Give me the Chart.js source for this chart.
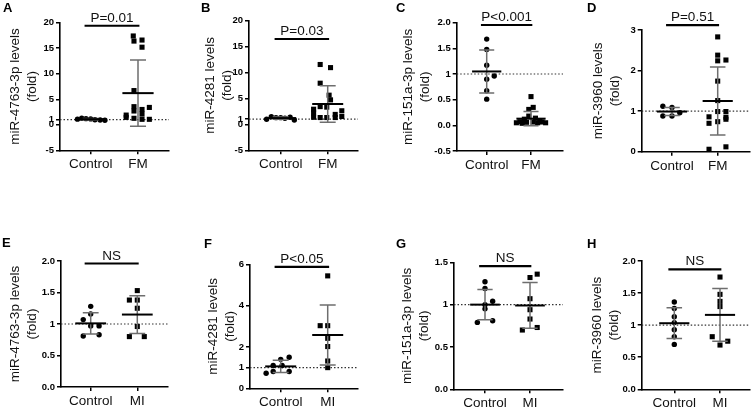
<!DOCTYPE html>
<html>
<head>
<meta charset="utf-8">
<script src="https://cdn.jsdelivr.net/npm/chart.js@4.4.0/dist/chart.umd.min.js"></script>
<style>
  body { margin: 0; background: #fff; }
  #wrap { position: relative; width: 754px; height: 410px; }
  #wrap canvas { position: absolute; left: 0; top: 0; }
</style>
</head>
<body>
<div id="wrap"></div>
<script>
// ===== Data =====
const letters = ['A', 'B', 'C', 'D', 'E', 'F', 'G', 'H'];
const yTitles = ['miR-4763-3p levels', 'miR-4281 levels', 'miR-151a-3p levels', 'miR-3960 levels',
                 'miR-4763-3p levels', 'miR-4281 levels', 'miR-151a-3p levels', 'miR-3960 levels'];
const groupNames = [['Control', 'FM'], ['Control', 'FM'], ['Control', 'FM'], ['Control', 'FM'],
                    ['Control', 'MI'], ['Control', 'MI'], ['Control', 'MI'], ['Control', 'MI']];
const pLabels = ['P=0.01', 'P=0.03', 'P<0.001', 'P=0.51', 'NS', 'P<0.05', 'NS', 'NS'];
const sigY = [19.4, 16.4, 1.955, 3.12, 1.96, 5.88, 1.456, 1.87];

const yRanges = [[-5, 20], [-5, 20], [-0.5, 2], [0, 3], [0, 2], [0, 6], [0, 1.5], [0, 2]];
const yTicks = [
  [20, 15, 10, 5, 1, 0, -5], [20, 15, 10, 5, 1, 0, -5], [2, 1.5, 1, 0.5, 0, -0.5], [3, 2, 1, 0],
  [2, 1.5, 1, 0.5, 0], [6, 4, 2, 1, 0], [1.5, 1, 0.5, 0], [2, 1.5, 1, 0.5, 0]
];
const yTickLabels = [
  ['20', '15', '10', '5', '1', '0', '-5'], ['20', '15', '10', '5', '1', '0', '-5'],
  ['2.0', '1.5', '1', '0.5', '0.0', '-0.5'], ['3', '2', '1', '0'],
  ['2.0', '1.5', '1', '0.5', '0.0'], ['6', '4', '2', '1', '0'],
  ['1.5', '1', '0.5', '0.0'], ['2.0', '1.5', '1', '0.5', '0.0']
];

// fold values, jitter = horizontal spread inside a group (category units)
const ctlA = [1.1, 1.3, 1.2, 1.15, 1.0, 0.95, 0.9];
const ctlAJit = [-0.28, -0.19, -0.1, 0, 0.09, 0.2, 0.3];
const fmA = [17.4, 16.4, 16.6, 15.2, 6.7, 3.55, 3.0, 3.4, 2.7, 1.9, 2.1, 1.45, 1.27, 1.07, 1.07];
const fmAJit = [-0.1, -0.085, 0.085, 0.085, -0.085, -0.085, 0.085, 0.24, -0.085, -0.25, 0.085, -0.25, -0.085, 0.24, 0.085];

const ctlB = [0.96, 1.47, 1.28, 1.28, 1.15, 1.35, 0.83];
const ctlBJit = [-0.3, -0.2, -0.1, 0, 0.09, 0.2, 0.29];
const fmB = [11.5, 10.9, 7.9, 5.6, 4.7, 3.4, 3.3, 2.9, 2.6, 2.2, 1.9, 1.35, 1.3, 1.3, 1.3, 1.5];
const fmBJit = [-0.16, 0.06, -0.16, 0.03, 0.06, -0.16, -0.02, -0.3, 0.3, -0.3, 0.16, -0.3, -0.16, -0.02, 0.16, 0.3];

const ctlC = [1.68, 1.48, 1.17, 0.96, 0.9, 0.675, 0.51];
const ctlCJit = [0, 0, 0, 0.17, 0, 0, 0];
const fmC = [0.56, 0.35, 0.31, 0.18, 0.12, 0.14, 0.07, 0.06, 0.065, 0.05, 0.065, 0.05, 0.05, 0.04, 0.09];
const fmCJit = [0, 0.05, -0.05, -0.05, -0.15, 0.1, -0.25, -0.1, 0.05, 0.15, 0.25, 0.33, -0.33, -0.2, 0.2];

const ctlD = [1.12, 1.09, 0.88, 0.88, 0.96];
const ctlDJit = [-0.2, 0, -0.2, 0, 0.17];
const fmD = [2.83, 2.38, 2.24, 2.26, 1.74, 1.26, 0.99, 0.99, 0.86, 0.74, 0.85, 0.8, 0.7, 0.06, 0.12];
const fmDJit = [0, 0, 0, 0.18, 0, 0, 0, 0.18, -0.19, 0, 0.18, 0.18, -0.19, -0.19, 0.18];

const ctlE = [1.28, 1.16, 1.07, 0.97, 0.97, 0.81, 0.83];
const ctlEJit = [0, 0, -0.16, 0, 0.18, -0.16, 0.18];
const miE = [1.53, 1.38, 1.38, 1.25, 0.96, 0.8, 0.8];
const miEJit = [0, -0.17, 0, 0, 0, -0.17, 0.15];

const ctlF = [1.1, 1.1, 1.4, 1.5, 0.73, 0.81, 0.81];
const ctlFJit = [-0.16, 0.03, 0, 0.18, -0.31, -0.16, 0.18];
const miF = [5.44, 3.03, 3.03, 2.42, 2.02, 1.32, 1.0];
const miFJit = [0, -0.16, 0, 0, 0, 0, 0];

const ctlG = [1.27, 1.19, 1.04, 1.0, 0.95, 0.79, 0.81];
const ctlGJit = [0, 0, 0.17, 0, 0, -0.17, 0.17];
const miG = [1.32, 1.36, 1.07, 0.94, 0.83, 0.7, 0.73];
const miGJit = [0, 0.16, 0, 0, 0, -0.17, 0.16];

const ctlH = [1.36, 1.26, 1.13, 1.04, 0.93, 0.82, 0.7];
const ctlHJit = [0, 0, 0, 0, 0, 0, 0];
const miH = [1.75, 1.48, 1.37, 1.29, 0.82, 0.69, 0.75];
const miHJit = [0, 0, 0, 0, -0.17, 0, 0.17];

// mean and SD of [control, group]
const means = [[1.1, 6.2], [1.19, 3.9], [1.05, 0.13], [0.99, 1.25], [1.01, 1.15], [1.06, 2.58], [1.0, 0.99], [1.03, 1.16]];
const sds = [[0.12, 6.5], [0.22, 3.5], [0.42, 0.14], [0.1, 0.84], [0.17, 0.3], [0.3, 1.45], [0.18, 0.27], [0.24, 0.41]];

const ctlVals = [ctlA, ctlB, ctlC, ctlD, ctlE, ctlF, ctlG, ctlH];
const ctlJit = [ctlAJit, ctlBJit, ctlCJit, ctlDJit, ctlEJit, ctlFJit, ctlGJit, ctlHJit];
const grpVals = [fmA, fmB, fmC, fmD, miE, miF, miG, miH];
const grpJit = [fmAJit, fmBJit, fmCJit, fmDJit, miEJit, miFJit, miGJit, miHJit];

// ===== Layout =====
const W = 754, H = 410;
const FONT = "'Liberation Sans', Arial, Helvetica, sans-serif";
const XH = 30;          // x scale box height
const TITLE_SIZE = 13.5;
const TITLE_LH = TITLE_SIZE * 1.25;
// axisLeft, axisRight, axisTop, axisBottom, controlPx, groupPx, titleGap
const frames = [
  [60, 169, 22.7, 150.3, 90.7, 138, 45],
  [249, 358, 20.3, 150.3, 280.7, 327.7, 39],
  [456.7, 563, 22.7, 151, 486.7, 531, 48],
  [641.7, 750, 30, 151.7, 672, 717.7, 43.7],
  [61, 168, 261, 387, 90.7, 137.3, 46],
  [250, 358, 264.3, 388.3, 280.7, 327.7, 37],
  [454, 563, 262.3, 389.3, 485, 530, 47],
  [641.7, 750, 261, 389.3, 674.3, 720, 44.7]
];
const letterPos = [[3, 12], [201, 12], [396, 12], [587, 12], [2, 247], [204, 248], [396, 248], [587, 248]];

Chart.defaults.font.family = FONT;

// ===== Overlay: reference line, mean +/- SD, significance bar =====
function overlay(i) {
  return {
    id: 'overlay' + i,
    beforeDatasetsDraw(chart) {
      const ctx = chart.ctx, a = chart.chartArea;
      const y = chart.scales.y.getPixelForValue(1);
      ctx.save();
      ctx.strokeStyle = '#333';
      ctx.lineWidth = 1.2;
      ctx.setLineDash([1.5, 2]);
      ctx.beginPath();
      ctx.moveTo(a.left, y);
      ctx.lineTo(a.right, y);
      ctx.stroke();
      ctx.restore();
    },
    afterDatasetsDraw(chart) {
      const ctx = chart.ctx;
      const xs = chart.scales.x, ys = chart.scales.y;
      ctx.save();
      [1, 2].forEach((c, g) => {
        const m = means[i][g], s = sds[i][g];
        const ym = ys.getPixelForValue(m);
        const yHi = ys.getPixelForValue(m + s);
        const yLo = ys.getPixelForValue(m - s);
        const xc = xs.getPixelForValue(c);
        ctx.strokeStyle = '#6e6e6e';
        ctx.lineWidth = 1.5;
        ctx.beginPath();
        ctx.moveTo(xc, yHi); ctx.lineTo(xc, yLo);
        ctx.moveTo(xs.getPixelForValue(c - 0.17), yHi); ctx.lineTo(xs.getPixelForValue(c + 0.17), yHi);
        ctx.moveTo(xs.getPixelForValue(c - 0.17), yLo); ctx.lineTo(xs.getPixelForValue(c + 0.17), yLo);
        ctx.stroke();
        ctx.strokeStyle = '#000';
        ctx.lineWidth = 2;
        ctx.beginPath();
        ctx.moveTo(xs.getPixelForValue(c - 0.33), ym); ctx.lineTo(xs.getPixelForValue(c + 0.33), ym);
        ctx.stroke();
      });

      // significance bar + label
      const by = ys.getPixelForValue(sigY[i]);
      const x0 = xs.getPixelForValue(0.87), x1 = xs.getPixelForValue(2.03);
      ctx.strokeStyle = '#000';
      ctx.lineWidth = 2.2;
      ctx.beginPath();
      ctx.moveTo(x0, by); ctx.lineTo(x1, by);
      ctx.stroke();
      ctx.fillStyle = '#111';
      ctx.font = '13.5px ' + FONT;
      ctx.textAlign = 'center';
      ctx.textBaseline = 'alphabetic';
      ctx.fillText(pLabels[i], (x0 + x1) / 2, by - 4);

      // panel letter
      ctx.fillStyle = '#000';
      ctx.font = 'bold 13px ' + FONT;
      ctx.textAlign = 'left';
      ctx.fillText(letters[i], letterPos[i][0], letterPos[i][1]);
      ctx.restore();
    }
  };
}

// ===== Panels =====
function makePanel(i) {
  const [left, right, top, bottom, cPx, gPx, gap] = frames[i];
  const unit = gPx - cPx;
  const xMin = 1 - (cPx - left) / unit;
  const xMax = 2 + (right - gPx) / unit;
  const yw = gap + TITLE_LH / 2;

  const canvas = document.createElement('canvas');
  canvas.width = W;
  canvas.height = H;
  document.getElementById('wrap').appendChild(canvas);

  const axisGrid = { drawOnChartArea: false, color: '#000', tickColor: '#000', tickLength: 4, lineWidth: 1.5 };
  const axisBorder = { color: '#000', width: 1.6 };

  new Chart(canvas, {
    type: 'scatter',
    data: {
      datasets: [
        {
          data: ctlVals[i].map((v, k) => ({ x: 1 + ctlJit[i][k], y: v })),
          pointStyle: 'circle', pointRadius: 2.7, backgroundColor: '#000', borderWidth: 0
        },
        {
          data: grpVals[i].map((v, k) => ({ x: 2 + grpJit[i][k], y: v })),
          pointStyle: 'rect', pointRadius: 3.6, backgroundColor: '#000', borderWidth: 0
        }
      ]
    },
    options: {
      responsive: false,
      animation: false,
      events: [],
      clip: false,
      layout: { padding: { left: left - yw, right: W - right, top: top, bottom: H - bottom - XH } },
      plugins: { legend: { display: false }, tooltip: { enabled: false } },
      scales: {
        x: {
          type: 'linear', min: xMin, max: xMax,
          afterBuildTicks: s => { s.ticks = [{ value: 1 }, { value: 2 }]; },
          afterFit: s => { s.height = XH; },
          ticks: {
            callback: v => (v === 1 ? groupNames[i][0] : groupNames[i][1]),
            font: { size: 13.5 }, color: '#111', padding: 2, autoSkip: false, maxRotation: 0
          },
          grid: axisGrid, border: axisBorder
        },
        y: {
          type: 'linear', min: yRanges[i][0], max: yRanges[i][1],
          afterBuildTicks: s => { s.ticks = yTicks[i].map(v => ({ value: v })); },
          afterFit: s => { s.width = yw; },
          ticks: {
            callback: (v, k) => yTickLabels[i][k],
            font: { size: 9.5, weight: 'bold' }, color: '#000', padding: 2, autoSkip: false
          },
          grid: axisGrid, border: axisBorder,
          title: {
            display: true, text: [yTitles[i], '(fold)'],
            font: { size: TITLE_SIZE, lineHeight: 1.25 }, color: '#111', padding: 0
          }
        }
      }
    },
    plugins: [overlay(i)]
  });
}

for (let i = 0; i < 8; i++) makePanel(i);
</script>
</body>
</html>
